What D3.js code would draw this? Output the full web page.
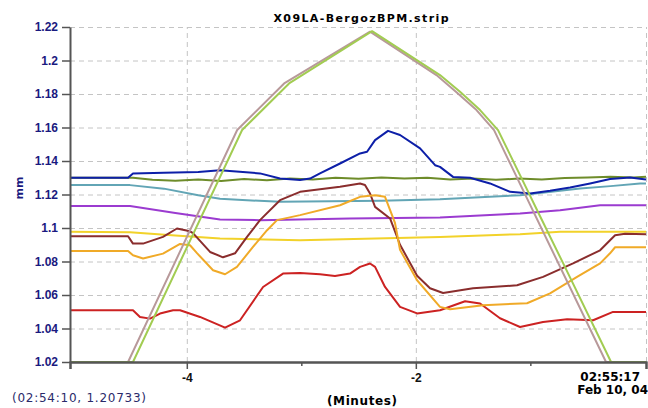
<!DOCTYPE html>
<html>
<head>
<meta charset="utf-8">
<script src="https://cdn.jsdelivr.net/npm/d3@7"></script>
<style>
  body { margin: 0; background: #fff; }
  svg { display: block; font-family: "DejaVu Sans", Verdana, sans-serif; }
  .grid line { stroke: #c4c4c4; stroke-dasharray: 5,4; }
  .grid path { display: none; }
  .line { fill: none; stroke-width: 2; stroke-linejoin: round; }
  .axis path, .axis line { stroke: #555; }
  .axis path { stroke-width: 2; }
  .y.axis text { fill: #1a1a80; font-weight: bold; font-size: 12px; }
  .x.axis text { fill: #111; font-weight: bold; font-size: 12px; }
</style>
</head>
<body>
<div id="stripchart"></div>
<script>
// time in minutes, position in mm
var blue = [[-5.02,1.130],[-4.513,1.130],[-4.47,1.1325],[-4.2,1.133],[-3.9,1.1335],[-3.71,1.1345],[-3.361,1.1326],
  [-3.186,1.1296],[-3.011,1.1286],[-2.924,1.1295],[-2.837,1.1326],[-2.662,1.1385],[-2.487,1.1445],[-2.426,1.1455],
  [-2.356,1.1525],[-2.243,1.158],[-2.138,1.1555],[-1.963,1.1475],[-1.832,1.1375],[-1.789,1.1365],[-1.675,1.1305],
  [-1.527,1.130],[-1.352,1.1266],[-1.177,1.1216],[-1.002,1.1206],[-0.828,1.1222],[-0.653,1.1242],[-0.478,1.1266],
  [-0.304,1.1292],[-0.129,1.1302],[0.01,1.129]];

var olive = [[-5.02,1.1300],[-4.47,1.1300],[-4.3,1.1288],[-4.1,1.1282],[-3.9,1.1290],[-3.7,1.1280],[-3.5,1.1292],
  [-3.3,1.1285],[-3.1,1.1296],[-2.9,1.1290],[-2.7,1.1300],[-2.5,1.1294],[-2.3,1.1302],[-2.1,1.1296],[-1.9,1.1300],
  [-1.7,1.1290],[-1.5,1.1296],[-1.3,1.1288],[-1.1,1.1295],[-0.9,1.1290],[-0.7,1.1298],[-0.5,1.1302],[-0.3,1.1306],
  [-0.1,1.1302],[0.01,1.1306]];

var teal = [[-5.02,1.1256],[-4.496,1.1256],[-4.2,1.1235],[-3.9,1.1195],[-3.71,1.1174],[-3.186,1.1156],[-2.3,1.1162],
  [-1.789,1.1171],[-1.09,1.1196],[-0.566,1.1236],[-0.3,1.125],[-0.042,1.1266],[0.01,1.1266]];

var purple = [[-5.02,1.1132],[-4.496,1.1132],[-4.1,1.109],[-3.71,1.1051],[-3.361,1.1047],[-2.575,1.1057],
  [-1.789,1.1063],[-1.09,1.1087],[-0.74,1.1106],[-0.391,1.1136],[0.01,1.1136]];

var yellow = [[-5.02,1.0977],[-4.496,1.0975],[-4.1,1.0955],[-3.71,1.0937],[-3.011,1.0927],[-1.789,1.0947],
  [-1.09,1.0963],[-0.74,1.0977],[0.01,1.0977]];

var maroon = [[-5.02,1.0951],[-4.513,1.0951],[-4.47,1.0907],[-4.382,1.0907],[-4.208,1.0947],[-4.086,1.0997],
  [-3.972,1.098],[-3.946,1.0969],[-3.797,1.0857],[-3.684,1.0825],[-3.579,1.0849],[-3.474,1.0947],[-3.361,1.1047],
  [-3.186,1.1166],[-3.011,1.1216],[-2.662,1.1246],[-2.487,1.1266],[-2.444,1.1257],[-2.400,1.1206],[-2.356,1.1126],
  [-2.225,1.1057],[-2.138,1.0900],[-1.989,1.0715],[-1.876,1.064],[-1.762,1.0612],[-1.500,1.064],[-1.116,1.0658],
  [-0.889,1.0708],[-0.627,1.0789],[-0.391,1.0867],[-0.304,1.0927],[-0.260,1.0957],[-0.173,1.0965],[0.01,1.0963]];

var orange = [[-5.02,1.0863],[-4.513,1.0863],[-4.47,1.0837],[-4.382,1.0818],[-4.208,1.0847],[-4.059,1.0905],
  [-3.972,1.0897],[-3.911,1.085],[-3.771,1.0748],[-3.666,1.0724],[-3.562,1.0768],[-3.422,1.0887],[-3.299,1.0987],
  [-3.212,1.1047],[-3.011,1.1077],[-2.662,1.1136],[-2.487,1.1186],[-2.356,1.1196],[-2.269,1.1186],[-2.182,1.103],
  [-2.138,1.087],[-1.989,1.0688],[-1.789,1.0529],[-1.701,1.0515],[-1.413,1.0539],[-1.029,1.0551],[-0.828,1.061],
  [-0.592,1.0708],[-0.391,1.0789],[-0.304,1.0849],[-0.260,1.0885],[0.01,1.0885]];

var red = [[-5.02,1.0509],[-4.47,1.0509],[-4.409,1.0469],[-4.321,1.0459],[-4.234,1.0489],[-4.120,1.0509],
  [-4.059,1.0509],[-3.885,1.0469],[-3.666,1.0405],[-3.535,1.0449],[-3.334,1.0648],[-3.160,1.0728],[-3.011,1.0732],
  [-2.837,1.0724],[-2.706,1.0714],[-2.575,1.0728],[-2.487,1.0768],[-2.400,1.0788],[-2.356,1.0768],[-2.269,1.0648],
  [-2.138,1.0529],[-1.989,1.049],[-1.789,1.0509],[-1.570,1.0563],[-1.439,1.0549],[-1.265,1.0461],[-1.090,1.0409],
  [-0.889,1.0439],[-0.679,1.0455],[-0.452,1.0449],[-0.278,1.0499],[0.01,1.0499]];

var pink = [[-5.02,1.02],[-4.513,1.02],[-3.56,1.1585],[-3.15,1.1863],[-2.40,1.2172],[-1.82,1.1913],
  [-1.65,1.1813],[-1.47,1.1704],[-1.317,1.1584],[-0.339,1.02],[0.01,1.02]];

var green = [[-5.02,1.02],[-4.47,1.02],[-3.517,1.1585],[-3.107,1.1863],[-2.382,1.2175],[-1.789,1.1913],
  [-1.614,1.1813],[-1.439,1.1704],[-1.282,1.1584],[-1.090,1.1316],[-0.915,1.107],[-0.714,1.079],[-0.295,1.02],[0.01,1.02]];

var yTicks = [1.02,1.04,1.06,1.08,1.1,1.12,1.14,1.16,1.18,1.2,1.22];
var yTickLabels = ["1.02","1.04","1.06","1.08","1.1","1.12","1.14","1.16","1.18","1.2","1.22"];
var xMajor = [-4,-2];
var xMajorLabels = ["-4","-2"];
var xMinor = [-3,-1];

var series = [
  {data: teal, color: "#62a5b5"},
  {data: purple, color: "#9b3bd0"},
  {data: yellow, color: "#f2d22a"},
  {data: olive, color: "#6e8c2a"},
  {data: red, color: "#cc2222"},
  {data: maroon, color: "#8a2d2d"},
  {data: orange, color: "#f0aa28"},
  {data: blue, color: "#0d1fa8"},
  {data: pink, color: "#b8999a"},
  {data: green, color: "#a2cc52"}
];

var margin = {top: 27, right: 2, bottom: 46, left: 70},
    width = 648 - margin.left - margin.right,
    height = 408 - margin.top - margin.bottom;

var x = d3.scaleLinear().domain([-5.02, 0.01]).range([0, width]);
var y = d3.scaleLinear().domain([1.02, 1.22]).range([height, 0]);

var valueline = d3.line()
    .x(function(d) { return x(d[0]); })
    .y(function(d) { return y(d[1]); });

var root = d3.select("#stripchart").append("svg")
    .attr("width", 648)
    .attr("height", 408);

var svg = root.append("g")
    .attr("transform", "translate(" + margin.left + "," + margin.top + ")");

// y grid
svg.append("g")
    .attr("class", "grid")
    .call(d3.axisLeft(y).tickValues(yTicks.slice(1)).tickSize(-width).tickFormat(""));

// x grid (major ticks and right edge)
svg.append("g")
    .attr("class", "grid")
    .attr("transform", "translate(0," + height + ")")
    .call(d3.axisBottom(x).tickValues(xMajor.concat([0.01])).tickSize(-height).tickFormat(""));

// lines
series.forEach(function(s) {
  svg.append("path")
      .datum(s.data)
      .attr("class", "line")
      .style("stroke", s.color)
      .attr("d", valueline);
});

// x axis, minor ticks
svg.append("g")
    .attr("class", "x axis")
    .attr("transform", "translate(0," + height + ")")
    .call(d3.axisBottom(x).tickValues(xMinor).tickSize(4).tickSizeOuter(7).tickFormat(""));

// x axis, major ticks
svg.append("g")
    .attr("class", "x axis")
    .attr("transform", "translate(0," + height + ")")
    .call(d3.axisBottom(x).tickValues(xMajor).tickSize(7).tickSizeOuter(7).tickPadding(4)
      .tickFormat(function(d, i) { return xMajorLabels[i]; }));

// y axis
svg.append("g")
    .attr("class", "y axis")
    .call(d3.axisLeft(y).tickValues(yTicks).tickSize(8).tickSizeOuter(0).tickPadding(4)
      .tickFormat(function(d, i) { return yTickLabels[i]; }));

svg.selectAll(".axis line").style("stroke-width", 1.5);

// title
root.append("text")
    .attr("x", 361)
    .attr("y", 22)
    .attr("text-anchor", "middle")
    .attr("textLength", 175)
    .attr("lengthAdjust", "spacing")
    .style("font-weight", "bold")
    .style("font-size", "11px")
    .text("X09LA-BergozBPM.strip");

// y label
root.append("text")
    .attr("transform", "translate(23,188) rotate(-90)")
    .attr("text-anchor", "middle")
    .style("font-weight", "bold")
    .style("font-size", "11px")
    .style("fill", "#1a1a80")
    .text("mm");

// end time
root.append("text")
    .attr("x", 640)
    .attr("y", 381)
    .attr("text-anchor", "end")
    .style("font-weight", "bold")
    .style("font-size", "12px")
    .text("02:55:17");

root.append("text")
    .attr("x", 648)
    .attr("y", 394)
    .attr("text-anchor", "end")
    .style("font-weight", "bold")
    .style("font-size", "12px")
    .text("Feb 10, 04");

// x label
root.append("text")
    .attr("x", 362)
    .attr("y", 405)
    .attr("text-anchor", "middle")
    .attr("textLength", 70)
    .attr("lengthAdjust", "spacing")
    .style("font-weight", "bold")
    .style("font-size", "12px")
    .text("(Minutes)");

// cursor readout
root.append("text")
    .attr("x", 12)
    .attr("y", 402)
    .attr("textLength", 134)
    .attr("lengthAdjust", "spacing")
    .style("font-size", "12px")
    .style("fill", "#2a2a6a")
    .text("(02:54:10, 1.20733)");
</script>
</body>
</html>
